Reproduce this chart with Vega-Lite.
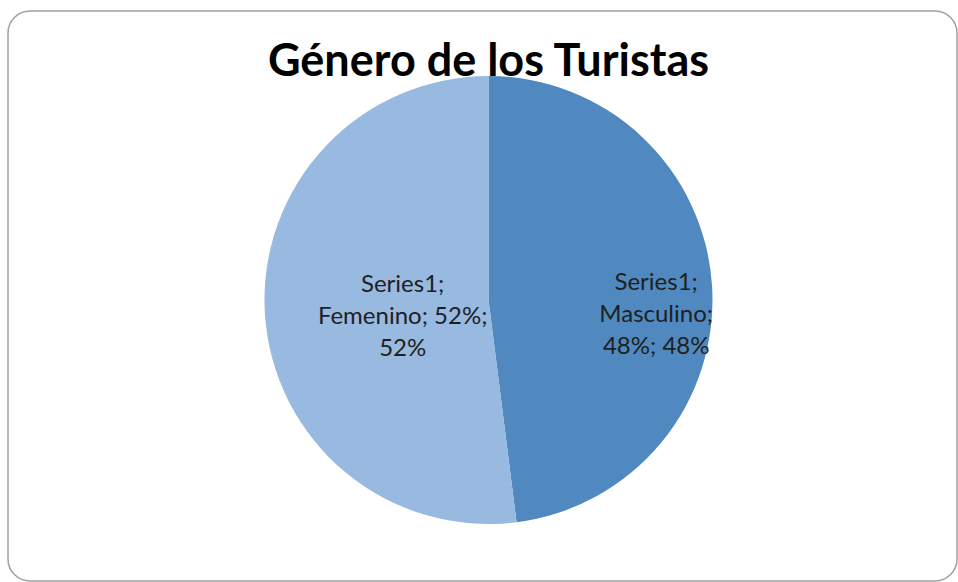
{
  "$schema": "https://vega.github.io/schema/vega-lite/v6.json",
  "width": 958,
  "height": 582,
  "autosize": {"type": "fit", "contains": "padding"},
  "padding": {"left": 8, "top": 11, "right": 1, "bottom": 1},
  "background": "white",
  "view": {"stroke": "#a0a0a0", "strokeWidth": 1.5, "cornerRadius": 22, "fill": "white"},
  "title": {
    "text": "Género de los Turistas",
    "font": "Lato",
    "fontSize": 45,
    "fontWeight": "bold",
    "color": "#000000",
    "anchor": "middle",
    "offset": -66,
    "baseline": "alphabetic",
    "dx": 6,
    "dy": 44
  },
  "data": {
    "values": [
      {"genero": "Masculino", "porcentaje": 48, "orden": 1, "etiqueta": "Series1;\nMasculino;\n48%; 48%"},
      {"genero": "Femenino", "porcentaje": 52, "orden": 2, "etiqueta": "Series1;\nFemenino; 52%;\n52%"}
    ]
  },
  "encoding": {
    "theta": {"field": "porcentaje", "type": "quantitative", "stack": true},
    "order": {"field": "orden", "type": "ordinal"}
  },
  "layer": [
    {
      "mark": {"type": "arc", "radius": 224, "xOffset": 6, "yOffset": 4},
      "encoding": {
        "color": {
          "field": "genero",
          "type": "nominal",
          "scale": {"domain": ["Masculino", "Femenino"], "range": ["#4F89BF", "#98B9E0"]},
          "legend": null
        }
      }
    },
    {
      "mark": {"type": "text", "radius": 168, "xOffset": 6, "yOffset": 4, "dy": -6, "lineBreak": "\n", "lineHeight": 32, "font": "Lato", "fontSize": 24, "color": "#1f1f1f", "align": "center", "baseline": "middle"},
      "encoding": {
        "text": {"condition": {"test": "datum.genero === 'Masculino'", "field": "etiqueta"}, "value": ""}
      }
    },
    {
      "mark": {"type": "text", "radius": 86, "xOffset": 6, "yOffset": 4, "dy": -20, "lineBreak": "\n", "lineHeight": 32, "font": "Lato", "fontSize": 24, "color": "#1f1f1f", "align": "center", "baseline": "middle"},
      "encoding": {
        "text": {"condition": {"test": "datum.genero === 'Femenino'", "field": "etiqueta"}, "value": ""}
      }
    }
  ]
}
